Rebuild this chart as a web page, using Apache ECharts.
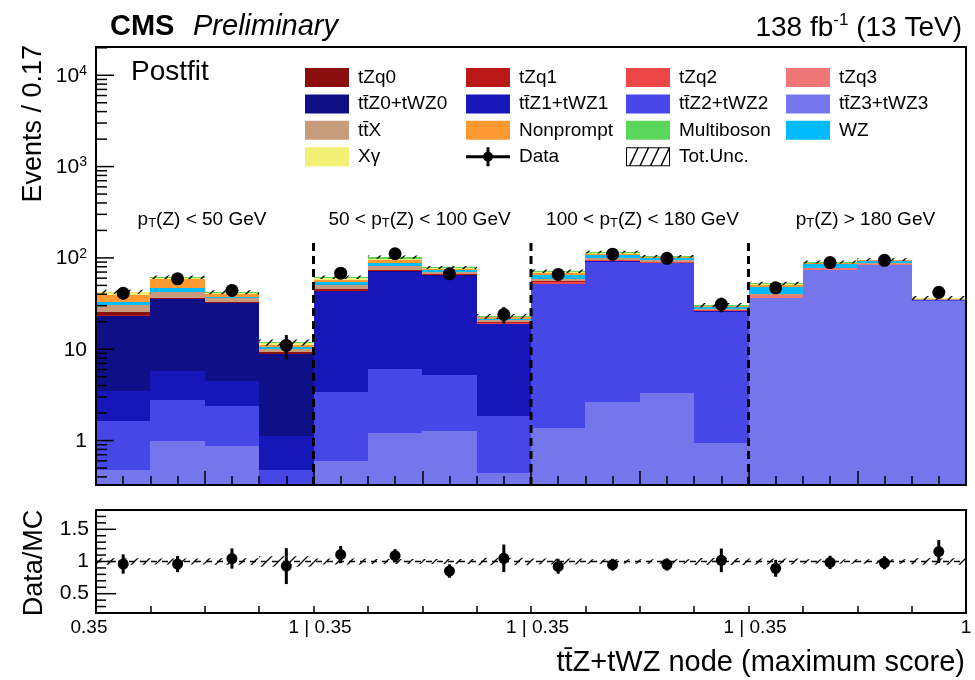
<!DOCTYPE html>
<html>
<head>
<meta charset="utf-8">
<title>ttZ+tWZ node (maximum score)</title>
<script src="https://cdn.jsdelivr.net/npm/echarts@6/dist/echarts.min.js"></script>
<style>
  html, body { margin: 0; padding: 0; background: #fff; }
  #chart { width: 975px; height: 680px; }
</style>
</head>
<body>
<div id="chart"></div>
<script>
// 16 bins: four pT(Z) regions, each split into four score bins from 0.35 to 1
const binCount = 16;
const groupEdges = [4, 8, 12];
const xTickLabels = ['0.35', '1 | 0.35', '1 | 0.35', '1 | 0.35', '1'];
const regionLabels = [
  'p{s|T}(Z) < 50 GeV',
  '50 < p{s|T}(Z) < 100 GeV',
  '100 < p{s|T}(Z) < 180 GeV',
  'p{s|T}(Z) > 180 GeV'
];
const regionCenters = [1.95, 5.95, 10.05, 14.15];

// postfit yields per bin
const ttZ3 = [0.48, 0.99, 0.87, 0.25, 0.60, 1.22, 1.28, 0.44, 1.38, 2.66, 3.29, 0.93, 36.1, 73.7, 83.6, 34.0];
const ttZ2 = [1.15, 1.78, 1.53, 0.23, 2.83, 4.85, 3.94, 1.43, 50.0, 88.2, 84.0, 24.8, 0.3, 0.5, 0.5, 0.2];
const ttZ1 = [1.88, 2.99, 2.12, 0.64, 39.2, 64.5, 58.6, 17.1, 0.8, 0.8, 0.6, 0.2, 0.05, 0.05, 0.05, 0.02];
const ttZ0 = [19.6, 29.7, 27.3, 7.68, 0.4, 0.5, 0.4, 0.1, 0.05, 0.05, 0.05, 0.02, 0.01, 0.01, 0.01, 0.01];
const tZq3 = [0.05, 0.05, 0.05, 0.02, 0.1, 0.2, 0.1, 0.05, 0.2, 0.2, 0.2, 0.05, 3.0, 3.0, 2.5, 0.6];
const tZq2 = [0.1, 0.1, 0.1, 0.03, 0.3, 0.4, 0.3, 0.1, 2.5, 3.0, 2.5, 0.8, 0.1, 0.2, 0.1, 0.05];
const tZq1 = [0.3, 0.3, 0.2, 0.1, 1.6, 2.0, 1.4, 0.5, 0.3, 0.3, 0.2, 0.05, 0.02, 0.02, 0.02, 0.01];
const tZq0 = [2.1, 0.8, 0.6, 0.3, 0.1, 0.1, 0.1, 0.05, 0.05, 0.05, 0.05, 0.01, 0.01, 0.01, 0.01, 0.01];
const ttX = [4.7, 6.0, 3.7, 0.9, 5.0, 8.5, 4.5, 1.2, 3.5, 4.0, 3.0, 1.0, 0.6, 1.0, 0.8, 0.2];
const wz = [2.8, 3.9, 1.2, 0.3, 4.0, 5.8, 3.5, 0.4, 6.5, 9.0, 6.0, 1.2, 7.7, 8.0, 5.5, 0.6];
const nonprompt = [5.8, 11.8, 2.2, 0.8, 3.5, 5.8, 1.5, 1.0, 3.0, 3.5, 1.5, 0.6, 2.9, 1.5, 1.0, 0.2];
const xGamma = [3.1, 2.5, 1.8, 0.4, 2.0, 3.5, 2.0, 0.3, 1.2, 1.5, 1.0, 0.4, 0.6, 0.8, 0.6, 0.2];
const multiboson = [0.6, 0.5, 0.4, 0.2, 1.8, 4.5, 1.0, 0.2, 2.0, 2.5, 1.5, 0.4, 1.2, 1.5, 1.2, 0.3];

const dataCounts = [41, 59, 44, 11, 68, 111, 67, 24, 66, 110, 99, 31, 47, 89, 94, 42];
const dataErrors = [6.4, 7.7, 6.6, 3.3, 8.2, 10.5, 8.2, 4.9, 8.1, 10.5, 9.9, 5.6, 6.9, 9.4, 9.7, 6.5];
const totUncRel = [0.05, 0.045, 0.05, 0.08, 0.045, 0.04, 0.04, 0.06, 0.045, 0.035, 0.035, 0.055, 0.045, 0.035, 0.035, 0.05];

const FONT = '"Liberation Sans", Arial, Helvetica, sans-serif';
const Y_MIN = 0.326, Y_MAX = 20400;
const R_MIN = 0.2, R_MAX = 1.8;
const SEP_TOP = 150;
const REGION_Y = 260;

// stacking order, bottom to top
const processes = [
  { name: 'tt\u0304Z3+tWZ3', values: ttZ3, color: '#7676ec' },
  { name: 'tt\u0304Z2+tWZ2', values: ttZ2, color: '#4747e8' },
  { name: 'tt\u0304Z1+tWZ1', values: ttZ1, color: '#1616b9' },
  { name: 'tt\u0304Z0+tWZ0', values: ttZ0, color: '#0f0f88' },
  { name: 'tZq3', values: tZq3, color: '#f07777' },
  { name: 'tZq2', values: tZq2, color: '#ec4648' },
  { name: 'tZq1', values: tZq1, color: '#b91718' },
  { name: 'tZq0', values: tZq0, color: '#8a1010' },
  { name: 'tt\u0304X', values: ttX, color: '#c89b7c' },
  { name: 'WZ', values: wz, color: '#00bcff' },
  { name: 'Nonprompt', values: nonprompt, color: '#ff9a33' },
  { name: 'X\u03b3', values: xGamma, color: '#f1f075' },
  { name: 'Multiboson', values: multiboson, color: '#5ad75a' }
];

// sparse diagonal hatch used for the total uncertainty band
function makeHatch() {
  const s = 12;
  const c = document.createElement('canvas');
  c.width = s; c.height = s;
  const g = c.getContext('2d');
  g.strokeStyle = '#000';
  g.lineWidth = 1.3;
  g.beginPath();
  g.moveTo(0, s); g.lineTo(s, 0);
  g.moveTo(-s, s); g.lineTo(s, -s);
  g.moveTo(0, 2 * s); g.lineTo(2 * s, 0);
  g.stroke();
  return c;
}
const hatch = { image: makeHatch(), repeat: 'repeat' };

function stackRect(params, api) {
  const i = api.value(0), lo = api.value(1), hi = api.value(2);
  if (!(hi > Y_MIN)) return null;
  const a = api.coord([i, Math.max(lo, Y_MIN)]);
  const b = api.coord([i + 1, Math.min(hi, Y_MAX)]);
  const x0 = Math.round(a[0]), x1 = Math.round(b[0]);
  const y0 = Math.round(a[1]), y1 = Math.round(b[1]);
  if (y0 - y1 <= 0) return null;
  return {
    type: 'rect',
    shape: { x: x0, y: y1, width: x1 - x0, height: y0 - y1 },
    style: { fill: api.visual('color') }
  };
}

function hatchRect(params, api) {
  const i = api.value(0), lo = api.value(1), hi = api.value(2);
  const a = api.coord([i, lo]);
  const b = api.coord([i + 1, hi]);
  return {
    type: 'rect',
    shape: { x: a[0], y: b[1], width: b[0] - a[0], height: a[1] - b[1] },
    style: { fill: hatch }
  };
}

function errorBar(params, api) {
  const x = api.value(0), lo = api.value(1), hi = api.value(2);
  const a = api.coord([x, lo]);
  const b = api.coord([x, hi]);
  return {
    type: 'line',
    shape: { x1: a[0], y1: a[1], x2: b[0], y2: b[1] },
    style: { stroke: '#000', lineWidth: 3 }
  };
}

function frameRect(params) {
  const cs = params.coordSys;
  return {
    type: 'rect',
    shape: { x: cs.x, y: cs.y, width: cs.width, height: cs.height },
    style: { fill: 'none', stroke: '#000', lineWidth: 2 }
  };
}

function makeYTick(majorLen, minorLen) {
  return function (params, api) {
    const cs = params.coordSys;
    const v = api.value(1), major = api.value(2);
    const p = api.coord([0, v]);
    const len = major ? majorLen : minorLen;
    return {
      type: 'line',
      shape: { x1: cs.x, y1: p[1], x2: cs.x + len, y2: p[1] },
      style: { stroke: '#000', lineWidth: 1.5 }
    };
  };
}

// totals and derived quantities
const total = new Array(binCount).fill(0);
const series = [];
processes.forEach(p => {
  const rows = p.values.map((v, i) => {
    const lo = total[i];
    total[i] = lo + v;
    return [i, lo, total[i]];
  });
  series.push({
    type: 'custom', name: p.name, xAxisIndex: 0, yAxisIndex: 0,
    itemStyle: { color: p.color }, renderItem: stackRect,
    encode: { x: 0, y: [1, 2] }, data: rows, z: 2, silent: true
  });
});

const uncRows = total.map((t, i) => [i, t * (1 - totUncRel[i]), t * (1 + totUncRel[i])]);
const ratio = dataCounts.map((d, i) => d / total[i]);
const ratioErr = dataErrors.map((e, i) => e / total[i]);

// log-axis tick positions: decades and their 2..9 subdivisions
const mainYTicks = [];
for (let e = -1; e <= 4; e++) {
  for (let m = 1; m <= 9; m++) {
    const v = m * Math.pow(10, e);
    if (v > Y_MIN && v < Y_MAX) mainYTicks.push([0, v, m === 1 ? 1 : 0]);
  }
}
const ratioYTicks = [];
for (let k = 3; k <= 17; k++) {
  ratioYTicks.push([0, k / 10, (k % 5 === 0) ? 1 : 0]);
}

series.push(
  {
    type: 'custom', name: 'Tot.Unc.', xAxisIndex: 0, yAxisIndex: 0,
    itemStyle: { color: '#000' }, renderItem: hatchRect,
    encode: { x: 0, y: [1, 2] }, data: uncRows, z: 3, silent: true
  },
  {
    type: 'custom', name: 'separators', xAxisIndex: 0, yAxisIndex: 0,
    data: groupEdges.map(x => [x, Y_MIN, SEP_TOP]),
    encode: { x: 0, y: [1, 2] }, z: 4, silent: true,
    renderItem: (params, api) => {
      const a = api.coord([api.value(0), api.value(1)]);
      const b = api.coord([api.value(0), api.value(2)]);
      return {
        type: 'line',
        shape: { x1: a[0], y1: a[1], x2: b[0], y2: b[1] },
        style: { stroke: '#000', lineWidth: 3, lineDash: [8, 5] }
      };
    }
  },
  {
    type: 'custom', name: 'regions', xAxisIndex: 0, yAxisIndex: 0,
    data: regionCenters.map((x, k) => [x, REGION_Y, k]),
    encode: { x: 0, y: 1 }, z: 4, silent: true,
    renderItem: (params, api) => {
      const p = api.coord([api.value(0), api.value(1)]);
      return {
        type: 'text', x: p[0], y: p[1],
        style: {
          text: regionLabels[api.value(2)],
          fill: '#000', fontSize: 19, fontFamily: FONT,
          align: 'center', verticalAlign: 'middle',
          rich: { s: { fontSize: 13, fontFamily: FONT, fill: '#000', verticalAlign: 'bottom', lineHeight: 13 } }
        }
      };
    }
  },
  {
    type: 'custom', name: 'dataErr', xAxisIndex: 0, yAxisIndex: 0,
    data: dataCounts.map((d, i) => [i + 0.5, d - dataErrors[i], d + dataErrors[i]]),
    encode: { x: 0, y: [1, 2] }, renderItem: errorBar, z: 5, silent: true
  },
  {
    type: 'scatter', name: 'Data', xAxisIndex: 0, yAxisIndex: 0,
    data: dataCounts.map((d, i) => [i + 0.5, d]),
    symbol: 'circle', symbolSize: 13, itemStyle: { color: '#000', opacity: 1 }, z: 6, silent: true
  },
  {
    type: 'custom', name: 'mainYTicks', xAxisIndex: 0, yAxisIndex: 0,
    data: mainYTicks, encode: { x: 0, y: 1 }, renderItem: makeYTick(18, 11), z: 8, silent: true
  },
  {
    type: 'custom', name: 'mainFrame', xAxisIndex: 0, yAxisIndex: 0,
    data: [[0, 1]], encode: { x: 0, y: 1 }, renderItem: frameRect, z: 9, silent: true
  },
  // ratio panel
  {
    type: 'custom', name: 'Tot.Unc.', xAxisIndex: 1, yAxisIndex: 1,
    itemStyle: { color: '#000' }, renderItem: hatchRect,
    encode: { x: 0, y: [1, 2] },
    data: totUncRel.map((u, i) => [i, 1 - u, 1 + u]), z: 3, silent: true
  },
  {
    type: 'line', name: 'unity', xAxisIndex: 1, yAxisIndex: 1,
    data: [[0, 1], [16, 1]], symbol: 'none', z: 3, silent: true,
    lineStyle: { color: '#000', width: 1.5, type: [6, 5] }
  },
  {
    type: 'custom', name: 'ratioErr', xAxisIndex: 1, yAxisIndex: 1,
    data: ratio.map((r, i) => [i + 0.5, r - ratioErr[i], r + ratioErr[i]]),
    encode: { x: 0, y: [1, 2] }, renderItem: errorBar, z: 5, silent: true
  },
  {
    type: 'scatter', name: 'Data', xAxisIndex: 1, yAxisIndex: 1,
    data: ratio.map((r, i) => [i + 0.5, r]),
    symbol: 'circle', symbolSize: 11, itemStyle: { color: '#000', opacity: 1 }, z: 6, silent: true
  },
  {
    type: 'custom', name: 'ratioYTicks', xAxisIndex: 1, yAxisIndex: 1,
    data: ratioYTicks, encode: { x: 0, y: 1 }, renderItem: makeYTick(20, 10), z: 8, silent: true
  },
  {
    type: 'custom', name: 'ratioFrame', xAxisIndex: 1, yAxisIndex: 1,
    data: [[0, 1]], encode: { x: 0, y: 1 }, renderItem: frameRect, z: 9, silent: true
  }
);

// legend icons drawn in a 44 x 19 box
const dataIcon = 'path://M0,8 L44,8 L44,11 L0,11 Z M20.5,0 L23.5,0 L23.5,19 L20.5,19 Z M17,9.5 a5,5 0 1,1 10,0 a5,5 0 1,1 -10,0 Z';
const uncIcon = 'path://M0,0 L44,0 L44,19 L0,19 Z M1,1 L1,18 L43,18 L43,1 Z' +
  ' M3,18 L4.6,18 L12.6,1 L11,1 Z M13.5,18 L15.1,18 L23.1,1 L21.5,1 Z' +
  ' M24,18 L25.6,18 L33.6,1 L32,1 Z M34.5,18 L36.1,18 L43,3.3 L43,1 L42.5,1 Z';
const legendColumns = [
  ['tZq0', 'tt\u0304Z0+tWZ0', 'tt\u0304X', 'X\u03b3'],
  ['tZq1', 'tt\u0304Z1+tWZ1', 'Nonprompt', 'Data'],
  ['tZq2', 'tt\u0304Z2+tWZ2', 'Multiboson', 'Tot.Unc.'],
  ['tZq3', 'tt\u0304Z3+tWZ3', 'WZ']
];
const legendLeft = [305, 466, 626, 786];

function legendItem(name) {
  if (name === 'Data') return { name, icon: dataIcon, itemStyle: { color: '#000', opacity: 1 } };
  if (name === 'Tot.Unc.') return { name, icon: uncIcon, itemStyle: { color: '#000' } };
  return { name, icon: 'rect' };
}

const option = {
  animation: false,
  backgroundColor: '#fff',
  grid: [
    { left: 96, right: 9, top: 47, height: 438, containLabel: false },
    { left: 96, right: 9, top: 510, height: 103, containLabel: false }
  ],
  xAxis: [
    {
      gridIndex: 0, type: 'value', min: 0, max: 16, interval: 2, z: 10,
      axisLine: { show: false },
      axisTick: { show: true, inside: true, length: 14, lineStyle: { color: '#000', width: 1.5 } },
      minorTick: { show: true, splitNumber: 4, length: 9, lineStyle: { color: '#000', width: 1.5 } },
      axisLabel: { show: false },
      splitLine: { show: false }, minorSplitLine: { show: false }
    },
    {
      gridIndex: 1, type: 'value', min: 0, max: 16, interval: 1, z: 10,
      axisLine: { show: false },
      axisTick: { show: true, inside: true, length: 7, lineStyle: { color: '#000', width: 1.5 } },
      splitLine: { show: false },
      axisLabel: {
        show: true, margin: 5, color: '#000', fontFamily: FONT, fontSize: 19,
        showMinLabel: true, showMaxLabel: true, hideOverlap: false,
        formatter: v => {
          const k = Math.round(v);
          if (k % 4 !== 0) return '';
          const idx = k / 4;
          const key = idx === 0 ? 'l' : (idx === 4 ? 'r' : 'm');
          return '{' + key + '|' + xTickLabels[idx] + '}';
        },
        rich: {
          l: { fontSize: 19, fontFamily: FONT, color: '#000', padding: [0, 14, 0, 0] },
          m: { fontSize: 19, fontFamily: FONT, color: '#000', padding: [0, 0, 0, 13] },
          r: { fontSize: 19, fontFamily: FONT, color: '#000' }
        }
      }
    }
  ],
  yAxis: [
    {
      gridIndex: 0, type: 'log', logBase: 10, min: Y_MIN, max: Y_MAX,
      axisLine: { show: false }, axisTick: { show: false }, splitLine: { show: false },
      axisLabel: {
        margin: 9, color: '#000', fontFamily: FONT, fontSize: 21,
        showMinLabel: false, showMaxLabel: false,
        formatter: v => {
          const l = Math.log10(v), e = Math.round(l);
          if (Math.abs(l - e) > 1e-6) return '';
          if (e === 0) return '{b|1}';
          if (e === 1) return '{b|10}';
          return '{b|10}{e|' + e + '}';
        },
        rich: {
          b: { fontSize: 21, fontFamily: FONT, color: '#000', verticalAlign: 'bottom', lineHeight: 22 },
          e: { fontSize: 14, fontFamily: FONT, color: '#000', verticalAlign: 'top', lineHeight: 14, padding: [0, 0, 8, 0] }
        }
      }
    },
    {
      gridIndex: 1, type: 'value', min: R_MIN, max: R_MAX, interval: 0.1,
      axisLine: { show: false }, axisTick: { show: false }, splitLine: { show: false },
      axisLabel: {
        margin: 7, color: '#000', fontFamily: FONT, fontSize: 21,
        showMinLabel: false, showMaxLabel: false,
        formatter: v => {
          if (Math.abs(v - 0.5) < 1e-6) return '0.5';
          if (Math.abs(v - 1) < 1e-6) return '1';
          if (Math.abs(v - 1.5) < 1e-6) return '1.5';
          return '';
        }
      }
    }
  ],
  legend: legendColumns.map((names, c) => ({
    orient: 'vertical', left: legendLeft[c], top: 68, padding: 0,
    itemWidth: 44, itemHeight: 19, itemGap: 7.4, selectedMode: false,
    textStyle: { fontSize: 19, fontFamily: FONT, color: '#000', padding: [0, 0, 0, 4] },
    data: names.map(legendItem)
  })),
  graphic: [
    { type: 'text', left: 110, top: 12, style: { text: 'CMS', font: 'bold 29px ' + FONT, fill: '#000' } },
    { type: 'text', left: 193, top: 12, style: { text: 'Preliminary', font: 'italic 29px ' + FONT, fill: '#000' } },
    {
      type: 'text', right: 13, top: 12,
      style: {
        text: '{b|138 fb}{e|-1}{b| (13 TeV)}', fill: '#000',
        rich: {
          b: { fontSize: 28, fontFamily: FONT, fill: '#000', verticalAlign: 'bottom', lineHeight: 30 },
          e: { fontSize: 17, fontFamily: FONT, fill: '#000', verticalAlign: 'top', lineHeight: 17, padding: [0, 0, 13, 0] }
        }
      }
    },
    { type: 'text', left: 131, top: 58, style: { text: 'Postfit', font: '28px ' + FONT, fill: '#000' } },
    {
      type: 'text', x: 34, y: 45, rotation: Math.PI / 2,
      style: { text: 'Events / 0.17', font: '27px ' + FONT, fill: '#000', align: 'right', verticalAlign: 'middle' }
    },
    {
      type: 'text', x: 35, y: 563, rotation: Math.PI / 2,
      style: { text: 'Data/MC', font: '27px ' + FONT, fill: '#000', align: 'center', verticalAlign: 'middle' }
    },
    {
      type: 'text', x: 965, y: 663,
      style: { text: 'tt\u0304Z+tWZ node (maximum score)', font: '29px ' + FONT, fill: '#000', align: 'right', verticalAlign: 'middle' }
    }
  ],
  series: series
};

const chart = echarts.init(document.getElementById('chart'), null, { renderer: 'canvas' });
chart.setOption(option);
</script>
</body>
</html>
